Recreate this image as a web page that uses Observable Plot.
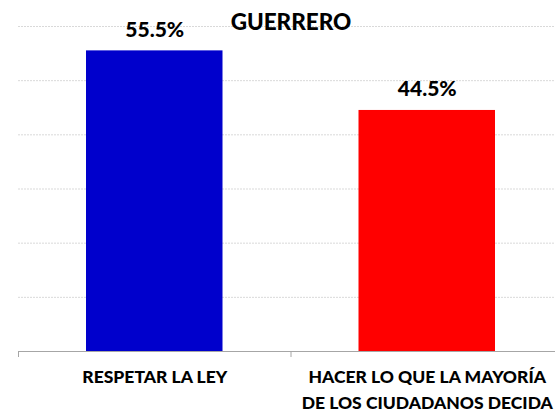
<!DOCTYPE html>
<html><head><meta charset="utf-8">
<script src="https://cdn.jsdelivr.net/npm/d3@7"></script>
<script src="https://cdn.jsdelivr.net/npm/@observablehq/plot@0.6"></script>
<style>body{margin:0;background:#fff} svg{display:block}</style>
</head><body><div id="chart"></div>
<script>
const title = "GUERRERO";
const categories = ["RESPETAR LA LEY", "HACER LO QUE LA MAYORÍA\nDE LOS CIUDADANOS DECIDA"];
const values = [55.5, 44.5];
const valueLabels = ["55.5%", "44.5%"];
const colors = ["#0000CC", "#FF0000"];
const yTicks = [10, 20, 30, 40, 50, 60];

const data = categories.map((c, i) => ({category: c, index: i, value: values[i], label: valueLabels[i], color: colors[i]}));
const font = "Lato, 'Open Sans', sans-serif";
const chart = Plot.plot({
  width: 555, height: 412, marginLeft: 18, marginRight: -8, marginTop: 26, marginBottom: 61,
  style: {fontFamily: font, background: "#fff", color: "#000"},
  x: {type: "linear", domain: [0, categories.length], label: null},
  y: {domain: [0, 60], axis: null},
  marks: [
    Plot.ruleY(yTicks, {stroke: "#d9d9d9", strokeDasharray: "2,1"}),
    Plot.rectY(data, {x1: "index", x2: d => d.index + 1, y: "value", fill: "color", insetLeft: 68, insetRight: 68}),
    Plot.ruleY([0], {stroke: "#a6a6a6"}),
    Plot.axisX({ticks: d3.range(categories.length + 1), tickFormat: () => "", tickSize: 6, stroke: "#a6a6a6", label: null}),
    Plot.text(data, {x: d => d.index + 0.5, y: "value", text: "label", dy: -14, lineAnchor: "bottom", fontSize: 21, fontWeight: 900}),
    Plot.text(data, {x: d => d.index + 0.5, y: 0, text: "category", lineAnchor: "top", dy: 13, fontSize: 17.5, fontWeight: 900, lineHeight: 26 / 17.5}),
    Plot.text([title], {frameAnchor: "top", lineAnchor: "top", dy: -12, fontSize: 22.5, fontWeight: 900})
  ]
});
document.getElementById("chart").append(chart);
</script>
</body></html>
